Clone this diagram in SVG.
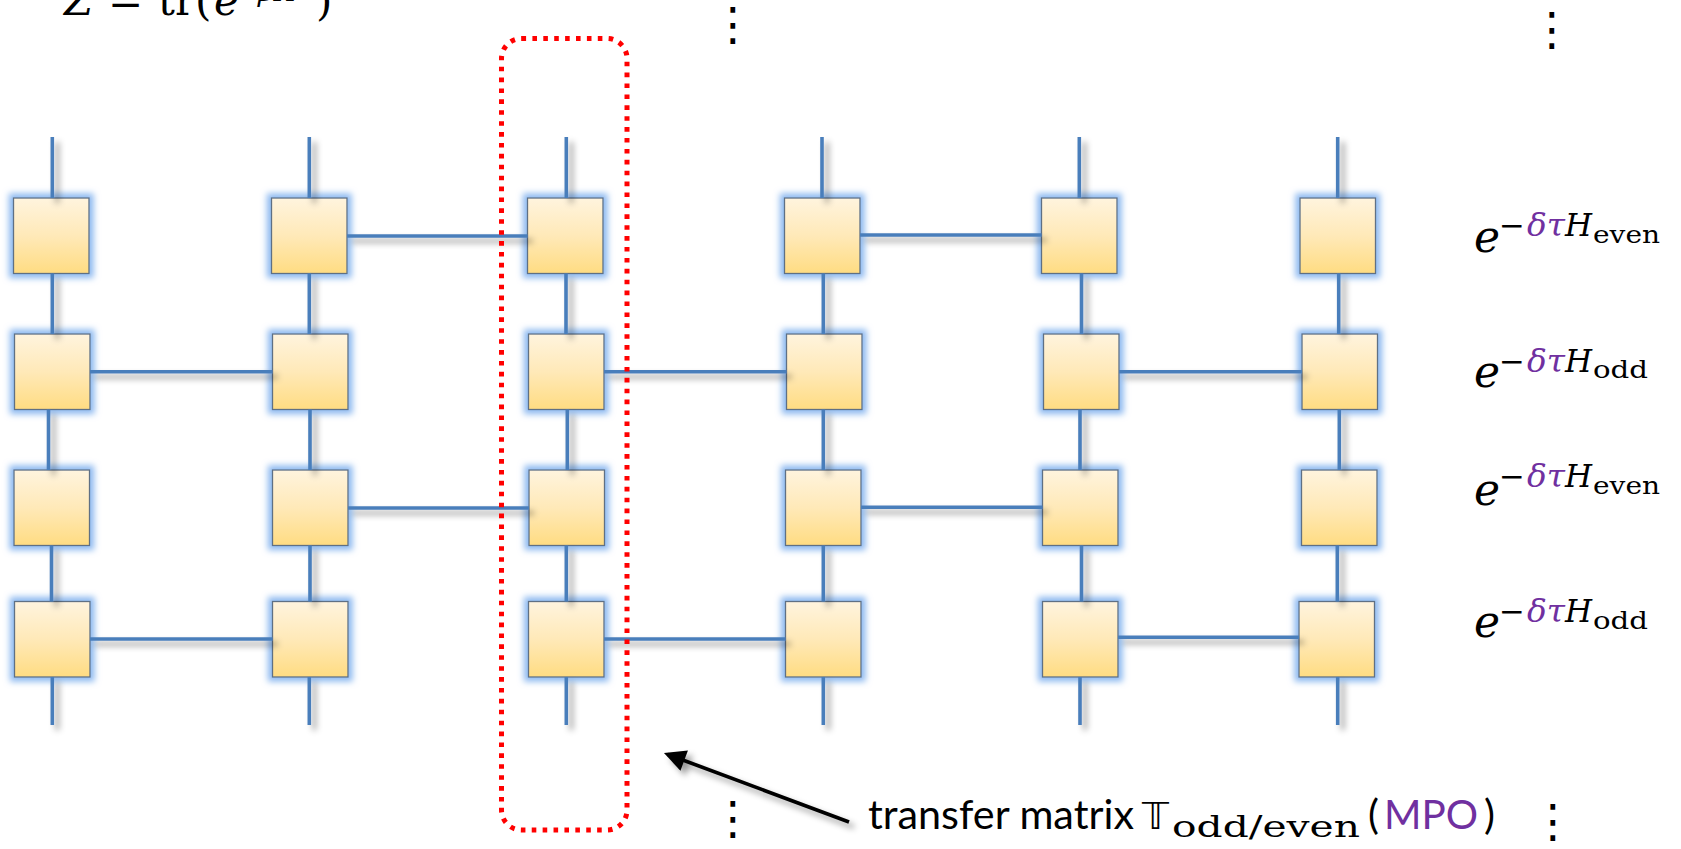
<svg xmlns="http://www.w3.org/2000/svg" width="1681" height="849" viewBox="0 0 1681 849">
  <defs>
    <linearGradient id="boxFill" x1="0" y1="0" x2="0" y2="1">
      <stop offset="0" stop-color="#FFF4DE"/>
      <stop offset="0.5" stop-color="#FFE9B8"/>
      <stop offset="1" stop-color="#FFDC82"/>
    </linearGradient>
    <filter id="glow" x="-30%" y="-30%" width="160%" height="160%">
      <feMorphology in="SourceAlpha" operator="dilate" radius="4" result="grown"/>
      <feGaussianBlur in="grown" stdDeviation="3.2" result="soft"/>
      <feFlood flood-color="#8DB9F0" flood-opacity="1"/>
      <feComposite in2="soft" operator="in" result="halo"/>
      <feMerge><feMergeNode in="halo"/><feMergeNode in="SourceGraphic"/></feMerge>
    </filter>
    <filter id="shade" filterUnits="userSpaceOnUse" x="0" y="0" width="1681" height="849">
      <feDropShadow dx="5" dy="5" stdDeviation="3" flood-color="#000" flood-opacity="0.4"/>
    </filter>
    <marker id="head" viewBox="0 0 10 10" refX="8" refY="5" markerWidth="6.5" markerHeight="6" orient="auto" markerUnits="strokeWidth">
      <path d="M0,0 L10,5 L0,10 z" fill="#000"/>
    </marker>
    <style>
      .node rect { fill: url(#boxFill); stroke: #5E6F84; stroke-width: 1.3; }
      .wire { stroke: #4A7EBB; stroke-width: 3.6; fill: none; }
      .math { font-family: "DejaVu Serif", "Liberation Serif", serif; fill: #000; }
      .it { font-style: italic; }
      .sans { font-family: Lato, "Liberation Sans", sans-serif; fill: #000; }
      .dots { font-family: "DejaVu Sans", sans-serif; font-size: 46px; fill: #000; text-anchor: middle; }
    </style>
  </defs>

  <rect width="1681" height="849" fill="#fff"/>

  <!-- partition function, top left -->
  <text class="math" x="64" y="15" font-size="42"><tspan class="it">Z</tspan><tspan x="108">=</tspan><tspan x="158">tr(</tspan><tspan class="it" x="214">e</tspan><tspan font-size="27" y="1" x="236">−</tspan><tspan class="it" font-size="27" y="1" x="258">βH</tspan><tspan x="316" y="15">)</tspan></text>

  <!-- tensor nodes -->
  <g id="nodes" filter="url(#glow)">
    <g id="n11" class="node"><rect x="13.5" y="198" width="75.5" height="75.5"/></g>
    <g id="n12" class="node"><rect x="271.5" y="198" width="75.5" height="75.5"/></g>
    <g id="n13" class="node"><rect x="527.5" y="198" width="75.5" height="75.5"/></g>
    <g id="n14" class="node"><rect x="784.5" y="198" width="75.5" height="75.5"/></g>
    <g id="n15" class="node"><rect x="1041.5" y="198" width="75.5" height="75.5"/></g>
    <g id="n16" class="node"><rect x="1300" y="198" width="75.5" height="75.5"/></g>

    <g id="n21" class="node"><rect x="14.5" y="334" width="75.5" height="75.5"/></g>
    <g id="n22" class="node"><rect x="272.5" y="334" width="75.5" height="75.5"/></g>
    <g id="n23" class="node"><rect x="528.5" y="334" width="75.5" height="75.5"/></g>
    <g id="n24" class="node"><rect x="786.5" y="334" width="75.5" height="75.5"/></g>
    <g id="n25" class="node"><rect x="1043.5" y="334" width="75.5" height="75.5"/></g>
    <g id="n26" class="node"><rect x="1302" y="334" width="75.5" height="75.5"/></g>

    <g id="n31" class="node"><rect x="14" y="470" width="75.5" height="75.5"/></g>
    <g id="n32" class="node"><rect x="272.5" y="470" width="75.5" height="75.5"/></g>
    <g id="n33" class="node"><rect x="529" y="470" width="75.5" height="75.5"/></g>
    <g id="n34" class="node"><rect x="785.5" y="470" width="75.5" height="75.5"/></g>
    <g id="n35" class="node"><rect x="1042.5" y="470" width="75.5" height="75.5"/></g>
    <g id="n36" class="node"><rect x="1301.5" y="470" width="75.5" height="75.5"/></g>

    <g id="n41" class="node"><rect x="14.5" y="601.5" width="75.5" height="75.5"/></g>
    <g id="n42" class="node"><rect x="272.5" y="601.5" width="75.5" height="75.5"/></g>
    <g id="n43" class="node"><rect x="528.5" y="601.5" width="75.5" height="75.5"/></g>
    <g id="n44" class="node"><rect x="785.5" y="601.5" width="75.5" height="75.5"/></g>
    <g id="n45" class="node"><rect x="1042.5" y="601.5" width="75.5" height="75.5"/></g>
    <g id="n46" class="node"><rect x="1299" y="601.5" width="75.5" height="75.5"/></g>
  </g>

  <!-- bonds: vertical legs and horizontal gate bonds -->
  <g id="connectors" filter="url(#shade)">
    <!-- column 1 -->
    <line class="wire" x1="52.3" y1="137" x2="52.3" y2="198"/>
    <line class="wire" x1="52.3" y1="273.5" x2="52.3" y2="334"/>
    <line class="wire" x1="48.5" y1="409.5" x2="48.5" y2="470"/>
    <line class="wire" x1="51.5" y1="545.5" x2="51.5" y2="601.5"/>
    <line class="wire" x1="52.3" y1="677" x2="52.3" y2="725"/>
    <!-- column 2 -->
    <line class="wire" x1="309.3" y1="137" x2="309.3" y2="198"/>
    <line class="wire" x1="309.3" y1="273.5" x2="309.3" y2="334"/>
    <line class="wire" x1="310" y1="409.5" x2="310" y2="470"/>
    <line class="wire" x1="310" y1="545.5" x2="310" y2="601.5"/>
    <line class="wire" x1="309.3" y1="677" x2="309.3" y2="725"/>
    <!-- column 3 -->
    <line class="wire" x1="566.3" y1="137" x2="566.3" y2="198"/>
    <line class="wire" x1="566" y1="273.5" x2="566" y2="334"/>
    <line class="wire" x1="567.3" y1="409.5" x2="567.3" y2="470"/>
    <line class="wire" x1="566.3" y1="545.5" x2="566.3" y2="601.5"/>
    <line class="wire" x1="566.3" y1="677" x2="566.3" y2="725"/>
    <!-- column 4 -->
    <line class="wire" x1="822" y1="137" x2="822" y2="198"/>
    <line class="wire" x1="823.3" y1="273.5" x2="823.3" y2="334"/>
    <line class="wire" x1="823.3" y1="409.5" x2="823.3" y2="470"/>
    <line class="wire" x1="823.3" y1="545.5" x2="823.3" y2="601.5"/>
    <line class="wire" x1="823.3" y1="677" x2="823.3" y2="725"/>
    <!-- column 5 -->
    <line class="wire" x1="1079.3" y1="137" x2="1079.3" y2="198"/>
    <line class="wire" x1="1081.5" y1="273.5" x2="1081.5" y2="334"/>
    <line class="wire" x1="1080" y1="409.5" x2="1080" y2="470"/>
    <line class="wire" x1="1081.5" y1="545.5" x2="1081.5" y2="601.5"/>
    <line class="wire" x1="1080" y1="677" x2="1080" y2="725"/>
    <!-- column 6 -->
    <line class="wire" x1="1337.7" y1="137" x2="1337.7" y2="198"/>
    <line class="wire" x1="1338.7" y1="273.5" x2="1338.7" y2="334"/>
    <line class="wire" x1="1339.3" y1="409.5" x2="1339.3" y2="470"/>
    <line class="wire" x1="1337.3" y1="545.5" x2="1337.3" y2="601.5"/>
    <line class="wire" x1="1337.7" y1="677" x2="1337.7" y2="725"/>

    <!-- row 1 (even bonds) -->
    <line class="wire" x1="347" y1="236" x2="527.5" y2="236"/>
    <line class="wire" x1="860" y1="235" x2="1041.5" y2="235"/>
    <!-- row 2 (odd bonds) -->
    <line class="wire" x1="90" y1="371.7" x2="272.5" y2="371.7"/>
    <line class="wire" x1="604" y1="371.7" x2="786.5" y2="371.7"/>
    <line class="wire" x1="1119" y1="371.7" x2="1302" y2="371.7"/>
    <!-- row 3 (even bonds) -->
    <line class="wire" x1="348" y1="508" x2="529" y2="508"/>
    <line class="wire" x1="861" y1="507.3" x2="1042.5" y2="507.3"/>
    <!-- row 4 (odd bonds) -->
    <line class="wire" x1="90" y1="639" x2="272.5" y2="639"/>
    <line class="wire" x1="604" y1="639" x2="785.5" y2="639"/>
    <line class="wire" x1="1118" y1="637.3" x2="1299" y2="637.3"/>

    <!-- pointer to the transfer-matrix column -->
    <line x1="849" y1="822" x2="668" y2="754.5" stroke="#000" stroke-width="3.6" marker-end="url(#head)"/>
  </g>

  <!-- transfer matrix column outline -->
  <rect id="tmatrix" x="501.5" y="38.5" width="125.5" height="791.5" rx="20" ry="20" fill="none" stroke="#FF0000" stroke-width="5" stroke-dasharray="4.6 6.3"/>

  <!-- gate labels -->
  <g id="labels">
    <text class="math" y="252"><tspan class="it" x="1474" font-size="44">e</tspan><tspan x="1499" y="236" font-size="31">−</tspan><tspan class="it" x="1527" y="236" font-size="31" fill="#7030A0" textLength="38" lengthAdjust="spacingAndGlyphs">δτ</tspan><tspan class="it" x="1565" y="236" font-size="31">H</tspan><tspan x="1593" y="243" font-size="25" textLength="67" lengthAdjust="spacingAndGlyphs">even</tspan></text>
    <text class="math" y="387"><tspan class="it" x="1474" font-size="44">e</tspan><tspan x="1499" y="371.5" font-size="31">−</tspan><tspan class="it" x="1527" y="371.5" font-size="31" fill="#7030A0" textLength="38" lengthAdjust="spacingAndGlyphs">δτ</tspan><tspan class="it" x="1565" y="371.5" font-size="31">H</tspan><tspan x="1593" y="378" font-size="25" textLength="55" lengthAdjust="spacingAndGlyphs">odd</tspan></text>
    <text class="math" y="505"><tspan class="it" x="1474" font-size="44">e</tspan><tspan x="1499" y="487" font-size="31">−</tspan><tspan class="it" x="1527" y="487" font-size="31" fill="#7030A0" textLength="38" lengthAdjust="spacingAndGlyphs">δτ</tspan><tspan class="it" x="1565" y="487" font-size="31">H</tspan><tspan x="1593" y="493.5" font-size="25" textLength="67" lengthAdjust="spacingAndGlyphs">even</tspan></text>
    <text class="math" y="637"><tspan class="it" x="1474" font-size="44">e</tspan><tspan x="1499" y="622" font-size="31">−</tspan><tspan class="it" x="1527" y="622" font-size="31" fill="#7030A0" textLength="38" lengthAdjust="spacingAndGlyphs">δτ</tspan><tspan class="it" x="1565" y="622" font-size="31">H</tspan><tspan x="1593" y="628.5" font-size="25" textLength="55" lengthAdjust="spacingAndGlyphs">odd</tspan></text>
  </g>

  <!-- continuation dots -->
  <text class="dots" x="733" y="40">⋮</text>
  <text class="dots" x="1552" y="45">⋮</text>
  <text class="dots" x="733" y="834">⋮</text>
  <text class="dots" x="1553" y="837">⋮</text>

  <!-- caption -->
  <text id="caption" y="829"><tspan class="sans" x="868" font-size="41" textLength="266" lengthAdjust="spacingAndGlyphs">transfer matrix</tspan><tspan x="1142" font-family="DejaVu Sans, sans-serif" font-size="38">𝕋</tspan><tspan class="math" x="1172" y="837" font-size="29" textLength="188" lengthAdjust="spacingAndGlyphs">odd/even</tspan><tspan class="sans" x="1368" y="829" font-size="41">(</tspan><tspan x="1384" font-family="Lato, 'Liberation Sans', sans-serif" font-size="41" fill="#7030A0" textLength="94" lengthAdjust="spacingAndGlyphs">MPO</tspan><tspan class="sans" x="1484" font-size="41">)</tspan></text>
</svg>
